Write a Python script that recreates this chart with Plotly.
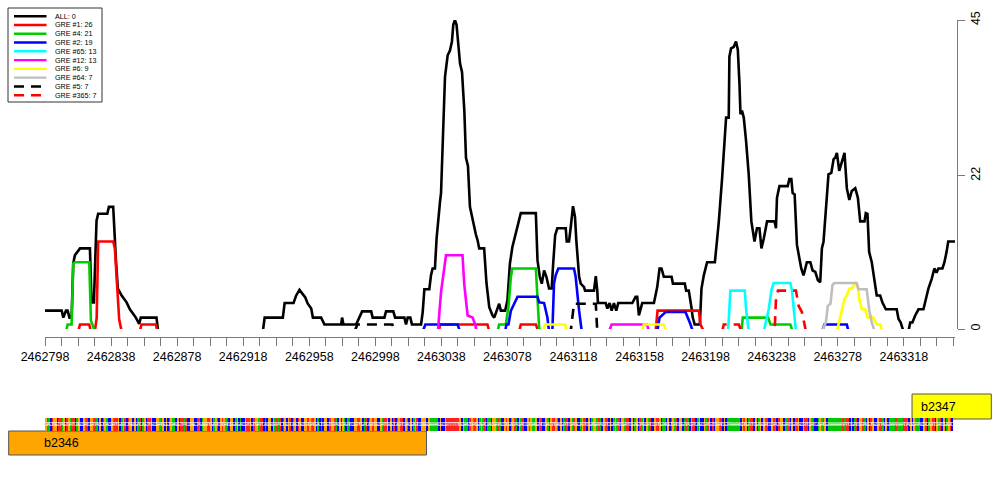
import plotly.graph_objects as go

# genomic start of the window; series x values are offsets (bp) from it
POS0 = 2462798
POS_END = 2463349

SERIES_NAMES = ["ALL", "GRE #1", "GRE #4", "GRE #2", "GRE #65",
                "GRE #12", "GRE #6", "GRE #64", "GRE #5", "GRE #365"]
SERIES_COUNTS = [0, 26, 21, 19, 13, 13, 9, 7, 7, 7]

ALL = [
    (0, 3), (10.1, 3), (11.1, 2), (12.7, 3), (13.7, 3), (14.8, 2), (16.1, 2), (17.1, 9.8),
    (18.1, 11), (21.2, 12), (27.2, 12), (28.2, 4.2), (29.6, 4.2), (31.2, 16), (32.2, 17),
    (37.7, 17), (38.7, 18), (41.3, 18), (42.9, 10.5), (44.1, 6.2), (46.4, 5.2), (49.4, 4.2),
    (51.4, 3.2), (53.4, 2.5), (55, 2), (57, 1.1), (58, 2), (67.5, 2), (68.5, 0),
    (131.9, 0), (133, 2), (144, 2), (145.1, 4.1), (150.5, 4.1), (152.1, 5.2), (154.1, 6),
    (155.8, 5.4), (157.6, 4.9), (159.1, 4), (161.2, 3.3), (162.2, 2), (167.2, 2), (169.2, 1),
    (179.3, 1), (179.9, 2), (180.7, 1), (188.4, 1), (190.4, 2), (192, 2.9), (197.5, 2.9),
    (198.4, 2), (205.5, 2), (206.5, 2.9), (210.9, 2.9), (212, 2), (217.6, 2), (218.6, 1),
    (219.6, 2), (221.2, 2), (222.2, 1), (227.7, 1), (228.7, 2.8), (229.7, 6.1), (232.7, 6.1),
    (233.7, 8.1), (234.7, 9.1), (236.1, 9.1), (237.1, 13.4), (238.3, 17.3), (239.2, 18.8),
    (239.8, 20), (240.7, 27), (242.2, 36.8), (243.8, 39.9), (245.2, 40.6), (246.4, 41.9),
    (247.2, 44.3), (248.2, 45), (249.2, 44.3), (250.4, 41.1), (251.3, 38.7), (252.5, 37.5),
    (253.9, 31.9), (254.9, 25.1), (256.1, 23.9), (257.3, 18), (258.8, 16.1), (260.9, 14),
    (261.9, 13.2), (262.9, 12), (265.9, 12), (267.3, 7), (269, 3.5), (271, 2.3), (272, 2),
    (273.4, 3), (275, 4), (276, 3), (278.6, 3), (280, 4.5), (281.5, 9.8), (283, 12.2),
    (285.1, 14.2), (286.7, 16.1), (288.1, 17.1), (297.2, 17.1), (298.2, 10.3), (299.6, 7.9),
    (300.8, 6.9), (302.2, 8.8), (303.6, 7.9), (305.2, 6.2), (306.8, 6.2), (307.7, 9.8),
    (308.9, 13.9), (310.2, 14.9), (315.3, 14.9), (315.9, 13), (317.3, 13), (318.4, 15.2),
    (319.7, 18.1), (320.9, 16.6), (321.7, 13.2), (323.4, 7.9), (324.4, 6.9), (326.4, 6.4),
    (327, 5.9), (332.4, 5.9), (333.5, 8), (334.4, 5.9), (334.8, 4.1), (339.5, 4.1),
    (340.5, 3.3), (341.9, 4.1), (343.1, 3), (344.5, 4.1), (345.9, 3), (347.1, 4.1),
    (355.6, 4.1), (357.6, 5), (358.6, 5), (359.6, 2.3), (360.6, 3.3), (361.6, 4.1),
    (368.7, 4.1), (369.7, 5.4), (370.7, 6.4), (372.1, 9.1), (373.3, 9.1), (374.7, 7.9),
    (379.4, 7.9), (380.2, 6.9), (387.4, 6.9), (388.2, 5.9), (389.8, 5.9), (391.4, 3.5),
    (392.2, 2), (393.4, 1), (396.5, 1), (397.5, 6.2), (398.9, 8.1), (400.9, 10), (405.6, 10),
    (407, 13.4), (408, 15.9), (410, 22.2), (411.6, 29), (412.4, 30.9), (414, 30.9),
    (414.4, 39.7), (415.4, 40.9), (417, 41.1), (418.4, 41.9), (419.5, 40.7), (420.5, 35.8),
    (421.1, 31.4), (422, 31.9), (423.1, 30.9), (424.5, 27.5), (426.1, 22.7), (427.7, 15.9),
    (429.6, 13), (431.1, 14.9), (432.6, 14.9), (433.8, 12), (435.2, 13.4), (437.2, 15.9),
    (441.8, 15.9), (442.6, 14.9), (443.2, 19.3), (444.7, 21), (449.7, 21), (450.7, 22),
    (451.9, 22), (452.7, 20), (453.9, 19.8), (455.3, 12.5), (456.7, 10.5), (457.9, 9.1),
    (459.3, 8.1), (460.3, 9.1), (461.3, 10), (463.4, 10), (464.8, 8.8), (466.4, 8.6),
    (468, 7.4), (469.4, 7.1), (470.4, 12), (471.4, 13), (472.8, 17.3), (474.4, 22.7),
    (476.1, 22.9), (477.5, 24.9), (478.5, 25.1), (479.5, 25.8), (480.9, 23.2), (482.5, 24.6),
    (484.1, 25.8), (485.5, 20.7), (487, 19), (488.5, 20.3), (490.6, 20.7), (492.2, 19.3),
    (493.6, 15.9), (496.2, 15.9), (497, 17.1), (498, 17), (499, 11.5), (500.6, 10),
    (502.3, 7.1), (503.6, 5.2), (505.7, 5.2), (507, 4.2), (509.1, 3.2), (515.7, 3.2),
    (516.8, 1.8), (518.1, 1.3), (519.8, 0), (522.8, 0), (523.9, 1.3), (525.2, 1.3),
    (526.9, 2.3), (528.9, 3.2), (531.9, 3.2), (533.3, 4.7), (534.9, 6.2), (536.9, 7.6),
    (538.5, 9.1), (539.8, 8.5), (541, 9.1), (543.4, 9.1), (544.6, 10), (545.9, 11.5),
    (546.9, 13), (551, 13),
]
GRE1 = [
    (20.1, 0), (21.2, 1), (26.8, 1), (27.8, 0), (30.2, 0), (31.3, 2), (32.2, 13), (41.3, 13),
    (42.3, 12), (43.7, 5.7), (44.9, 1.8), (46.4, 0), (57.4, 0), (58.4, 1), (67.1, 1), (68.1, 0),
    (238.3, 0), (239.3, 1), (267.9, 1), (269, 0), (287.1, 0), (288.1, 1), (297.2, 1), (298.8, 0),
    (369.7, 0), (370.9, 3), (395.9, 3), (396.9, 1), (398.9, 0),
]
GRE4 = [
    (12.7, 0), (13.7, 1), (16.1, 1), (17.1, 9.8), (18.1, 10), (26.8, 10), (27.8, 1.6),
    (28.8, 1), (30.2, 0), (274, 0), (275, 1), (279, 1), (280.6, 3.5), (282.1, 7.9), (283, 9.1),
    (297.2, 9.1), (298.2, 4), (299.2, 0.6), (299.8, 0), (421.7, 0), (422.5, 2), (437.8, 2),
    (439.3, 1), (451.3, 1), (452.7, 0),
]
GRE2 = [
    (228.7, 0), (230.3, 1), (249.8, 1), (251.3, 0), (278.6, 0), (279.4, 1), (280.6, 1),
    (282.1, 3), (284.1, 4), (286.1, 5), (298.2, 5), (299.2, 4.2), (302.2, 4.1), (303.2, 3),
    (304.2, 2), (305.2, 0), (307.2, 0), (308.2, 6.9), (309.2, 8.1), (310.8, 9.1), (320.3, 9.1),
    (321.3, 7.9), (322.3, 5), (323.4, 3), (325, 0), (370.7, 0), (372.1, 2), (375.8, 2.8),
    (387.8, 2.8), (389.4, 2), (390.9, 1), (392.2, 0), (470.4, 0), (472, 1), (485.5, 1),
    (486.5, 0),
]
GRE65 = [
    (413.6, 0), (415, 5.9), (423.7, 5.9), (424.5, 3.2), (426.1, 0), (435.2, 0), (438.2, 3.2),
    (439.8, 5.9), (441.2, 7), (451.3, 7), (452.3, 5.9), (453.6, 3.2), (454.7, 0),
]
GRE12 = [
    (237.9, 0), (239.8, 5.7), (242.8, 11), (252.8, 11), (253.9, 6.7), (255.9, 2.3), (258.9, 2),
    (260.5, 1), (261.3, 0), (341.5, 0), (343.1, 1), (364.5, 1), (365.7, 0),
]
GRE6 = [
    (301.6, 0), (302.8, 1), (314.9, 1), (315.9, 0), (361.3, 0), (362.6, 1), (374.7, 1),
    (376.1, 0), (479.5, 0), (481.5, 2), (482.9, 3.2), (484.1, 4.7), (485.5, 5.2), (487, 6.2),
    (488.5, 6.2), (490.6, 7), (492.2, 6.4), (493, 4.7), (494.6, 3.2), (496.6, 3.2), (498.2, 2),
    (501.6, 2), (503.6, 1), (505.7, 1), (507, 0),
]
GRE64 = [
    (470.4, 0), (472.8, 1.3), (474, 3.7), (475.6, 4), (476.8, 6.7), (477.9, 7), (491.5, 7),
    (492.5, 6.1), (497.5, 6.1), (499, 3.2), (500.6, 1.3), (502.3, 0),
]
GRE5 = [
    (187.4, 0), (189.2, 1), (210.3, 1), (212.1, 0), (318.3, 0), (320.3, 4), (333.5, 4),
    (334.4, 0),
]
GRE365 = [
    (410, 0), (411, 1), (420.1, 1), (421.7, 0), (441.8, 0), (442.6, 4.7), (443.8, 5.9),
    (454.7, 5.9), (456.3, 3.7), (458.3, 2.8), (459.9, 1), (460.7, 0),
]

# DNA sequence under the plot, one letter per base from POS0
SEQUENCE = "".join([
    "GTACTGGCTT", "AGCTGATTCA", "GCCGATCGGT", "TACGCTGACC", "GATTGCAGTC",
    "TGGCGCATCA", "GCTTGCCGGA", "TGCGCTGAAC", "GCTTATCCGG", "CCTACAGGTT",
    "GCAGTCGTGA", "TCGGCAGCAC", "CGTTGCTGGA", "TTCACGGCGA", "TATCTGCGTC",
    "AGCTGCCGGT", "GATGCACTCG", "GCTGGTACGC", "GACATCCGGT", "TGCATCAGTG",
    "GCCGATTGCG", "CTCAGTTCGA", "CGCAGTCCGG", "GCGAAAAACG", "CCGTTTTTTT",
    "TGCGAACTGA", "TGCAGATCAA", "CGGATACCGT", "GCAGTACGAT", "CCGTGAAGCA",
    "TCCGACGTTG", "ACGCATTCGA", "TGCCAGTTCG", "CAGGATACGT", "TCGCAGATCG",
    "GATTCGCAGC", "TAGCGATCCG", "TTGCAACGCT", "GATCGGCATA", "CGTTCAGCCG",
    "ATGCTCGGAT", "CGCTAAAAAA", "ACGTGCATTC", "GCAGCGATCC", "GTACTGGCAA",
    "TCGCATGCCG", "TTCGATCCAG", "ATGCAAAAAA", "AAATATTCGC", "ATCGGTACGC",
    "TGCCGTTACG", "CAAAATAAAA", "TTACGCGATA", "CCGTCAGTTC", "GATCGCAGTC",
])

GENE_NAMES = ["b2346", "b2347"]
GENE_STARTS = [2462776, 2463323]
GENE_ENDS = [2463029, 2463371]
GENE_COLORS = ["#FFA500", "#FFFF00"]

X_LABELS = [2462798, 2462838, 2462878, 2462918, 2462958, 2462998, 2463038,
            2463078, 2463118, 2463158, 2463198, 2463238, 2463278, 2463318]

FONT = "Liberation Sans, Arial, Helvetica, sans-serif"
W, H = 1000, 500


def px_x(p):
    return p / W


def px_y(p):
    return 1 - p / H


series_pts = [ALL, GRE1, GRE4, GRE2, GRE65, GRE12, GRE6, GRE64, GRE5, GRE365]
series_colors = ["#000000", "#FF0000", "#00CD00", "#0000FF", "#00FFFF",
                 "#FF00FF", "#FFFF00", "#BEBEBE", "#000000", "#FF0000"]
series_dash = ["solid"] * 8 + ["10px,7px", "10px,7px"]

fig = go.Figure()

for pts, color, dash in zip(series_pts, series_colors, series_dash):
    fig.add_trace(go.Scatter(
        x=[POS0 + d for d, _ in pts], y=[v for _, v in pts],
        mode="lines", line=dict(color=color, width=2.6, dash=dash),
        xaxis="x", yaxis="y", hoverinfo="skip", showlegend=False,
    ))

# sequence strip
base_code = {"A": 0, "C": 1, "G": 2, "T": 3}
fig.add_trace(go.Heatmap(
    z=[[base_code[b] for b in SEQUENCE]],
    x=[POS0 + i for i in range(len(SEQUENCE) + 1)],
    y=[418, 431],
    zmin=-0.5, zmax=3.5,
    colorscale=[[0, "#00C800"], [0.25, "#00C800"], [0.25, "#0000FF"], [0.5, "#0000FF"],
                [0.5, "#FFA500"], [0.75, "#FFA500"], [0.75, "#FF2020"], [1, "#FF2020"]],
    showscale=False, hoverinfo="skip", xaxis="x2", yaxis="y2",
))
fig.add_trace(go.Scatter(
    x=[POS0 + i + 0.5 for i in range(len(SEQUENCE))], y=[424.5] * len(SEQUENCE),
    mode="text", text=list(SEQUENCE),
    textfont=dict(size=6, color="rgba(255,255,255,0.8)", family=FONT),
    hoverinfo="skip", showlegend=False, xaxis="x2", yaxis="y2",
))

# gene boxes
gene_rows = [(431, 455), (394, 419)]
label_x = [POS0 - 2, 2463327.5]
for name, s, e, col, (y0, y1), lx in zip(GENE_NAMES, GENE_STARTS, GENE_ENDS,
                                         GENE_COLORS, gene_rows, label_x):
    fig.add_shape(type="rect", xref="x2", yref="y2", x0=s, x1=e, y0=y0, y1=y1,
                  fillcolor=col, line=dict(color="#555555", width=1), layer="below")
    fig.add_annotation(x=lx, y=(y0 + y1) / 2, xref="x2", yref="y2", text=name,
                       showarrow=False, xanchor="left", yanchor="middle",
                       font=dict(family=FONT, size=12.5, color="#000000"))

# hand-drawn legend (plotly's legend cannot pack rows this tightly)
fig.add_shape(type="rect", xref="paper", yref="paper",
              x0=px_x(8), x1=px_x(102), y0=px_y(102), y1=px_y(8),
              fillcolor="white", line=dict(color="#333333", width=1))
for i, (name, cnt, color, dash) in enumerate(zip(SERIES_NAMES, SERIES_COUNTS,
                                                  series_colors, series_dash)):
    ry = 16.2 + i * 8.78
    fig.add_shape(type="line", xref="paper", yref="paper",
                  x0=px_x(14), x1=px_x(46.5), y0=px_y(ry), y1=px_y(ry),
                  line=dict(color=color, width=2.4, dash=dash))
    fig.add_annotation(x=px_x(52.5), y=px_y(ry), xref="paper", yref="paper",
                       text=f"{name}: {cnt}", showarrow=False,
                       xanchor="left", yanchor="middle",
                       font=dict(family=FONT, size=7.2, color="#000000"))

tickvals = list(range(POS0, POS_END, 10))
ticktext = [str(v) if v in X_LABELS else "" for v in tickvals]

fig.update_layout(
    template="none",
    width=W, height=H,
    margin=dict(l=0, r=0, t=0, b=0),
    paper_bgcolor="white", plot_bgcolor="rgba(0,0,0,0)",
    showlegend=False,
    font=dict(family=FONT, color="#000000"),
    xaxis=dict(
        domain=[px_x(45), px_x(955)], range=[POS0, POS_END],
        anchor="free", position=px_y(336.5),
        showline=True, linecolor="#7a7a7a", linewidth=1,
        ticks="outside", ticklen=8, tickcolor="#7a7a7a", tickwidth=1,
        tickvals=tickvals, ticktext=ticktext,
        tickfont=dict(size=12.5, color="#000000"),
        showgrid=False, zeroline=False, automargin=False, fixedrange=True,
    ),
    yaxis=dict(
        domain=[px_y(329), px_y(20)], range=[0.35, 45.001],
        side="right", anchor="free", position=px_x(956.5),
        showline=True, linecolor="#7a7a7a", linewidth=1,
        ticks="outside", ticklen=7, tickcolor="#7a7a7a", tickwidth=1,
        tickvals=[0.35, 22.5, 45], ticktext=["0", "22", "45"], tickangle=-90,
        tickfont=dict(size=12.5, color="#000000"),
        showgrid=False, zeroline=False, automargin=False, fixedrange=True,
    ),
    xaxis2=dict(
        domain=[0, 1], range=[POS0 - 45 / 1.6515, POS0 + 955 / 1.6515],
        anchor="y2", visible=False, fixedrange=True,
    ),
    yaxis2=dict(
        domain=[0, 1], range=[H, 0], anchor="x2", visible=False, fixedrange=True,
    ),
)

# the page's default body margin would shift the whole figure by 8px
fig.write_html("out.html", config={"displayModeBar": False},
               post_script="document.body.style.margin='0';")
